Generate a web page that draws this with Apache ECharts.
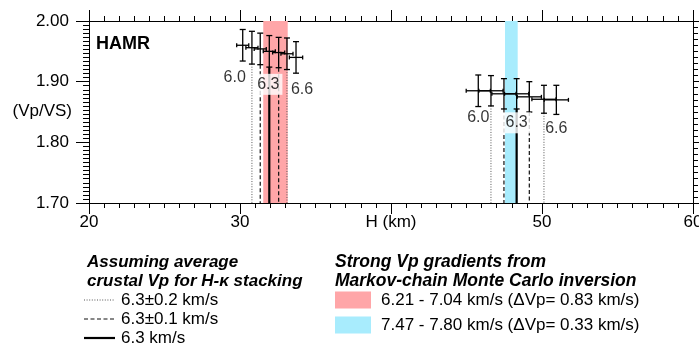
<!DOCTYPE html>
<html><head><meta charset="utf-8">
<script src="https://cdn.jsdelivr.net/npm/echarts@6/dist/echarts.min.js"></script>
<style>html,body{margin:0;padding:0;background:#fff}#c{width:699px;height:351px}</style>
</head><body><div id="c"></div>
<script>
// ---- data ----
const vpValues = ['6.0','6.1','6.2','6.3','6.4','6.5','6.6'];
const vpLineKind = ['none','dotted','dashed','solid','dashed','dotted','none'];
// cluster A (left)
const clusterA_H     = [30.18, 30.79, 31.34, 31.94, 32.56, 33.11, 33.71];
const clusterA_ratio = [1.960, 1.956, 1.954, 1.950, 1.948, 1.946, 1.940];
const clusterA_errH  = [0.40, 0.40, 0.40, 0.40, 0.40, 0.40, 0.44];
const clusterA_errR  = [0.026, 0.027, 0.026, 0.026, 0.025, 0.026, 0.026];
// cluster B (right)
const clusterB_H     = [45.78, 46.62, 47.48, 48.32, 49.16, 50.13, 50.95];
const clusterB_ratio = [1.885, 1.885, 1.880, 1.880, 1.875, 1.871, 1.870];
const clusterB_errH  = [0.80, 0.80, 0.80, 0.80, 0.80, 0.80, 0.80];
const clusterB_errR  = [0.026, 0.025, 0.025, 0.025, 0.025, 0.023, 0.024];
// Vp gradient bands (H range)
const bandPink = [31.54, 33.16];
const bandBlue = [47.55, 48.39];
// axes
const xMin = 20, xMax = 60, xStep = 10;
const yMin = 1.70, yMax = 2.00, yStep = 0.10;
const xTickLabels = ['20','30','H (km)','50','60'];
const yTickLabels = ['1.70','1.80','1.90','2.00'];
const stationName = 'HAMR';
const yAxisTitle = '(Vp/VS)';
const legendLeftTitle = ['Assuming average','crustal Vp for H-\u03ba stacking'];
const legendLeftItems = ['6.3\u00b10.2 km/s','6.3\u00b10.1 km/s','6.3 km/s'];
const legendRightTitle = ['Strong Vp gradients from','Markov-chain Monte Carlo inversion'];
const legendRightItems = ['6.21 - 7.04 km/s (\u0394Vp= 0.83 km/s)','7.47 - 7.80 km/s (\u0394Vp= 0.33 km/s)'];

// ---- styling ----
const FONT = '"Liberation Sans", Arial, Helvetica, sans-serif';
const PINK = '#ffa6a8', BLUE = '#a8ecfd';
function lineStyleFor(kind){
  if(kind==='dotted') return {stroke:'#555', lineWidth:1, lineDash:[1,1.6]};
  if(kind==='dashed') return {stroke:'#111', lineWidth:1.2, lineDash:[4,2.5]};
  return {stroke:'#000', lineWidth:2.2};
}

function buildErr(H,R,eH,eR){ return H.map((h,i)=>[h,R[i],eH[i],eR[i]]); }
function buildRef(H,R,eR){
  const out=[];
  H.forEach((h,i)=>{ if(vpLineKind[i]!=='none') out.push([h, R[i]-eR[i], i]); });
  return out;
}
function buildLabels(H,R,offs){
  return [0,3,6].map((i,k)=>({
    value:[H[i],R[i]], name:vpValues[i],
    label:{offset:offs[k], backgroundColor: i===3?'#fff':'transparent', padding: i===3?[3,3,2,3]:0}
  }));
}

function errRender(params, api){
  const x=api.value(0), y=api.value(1), ex=api.value(2), ey=api.value(3);
  const t=api.coord([x,y+ey]), b=api.coord([x,y-ey]);
  const l=api.coord([x-ex,y]), r=api.coord([x+ex,y]);
  const st={stroke:'#000', lineWidth:1.3};
  const cv=3, ch=2;
  const L=(x1,y1,x2,y2)=>({type:'line', shape:{x1,y1,x2,y2}, style:st});
  return {type:'group', children:[
    L(t[0],t[1],b[0],b[1]), L(t[0]-cv,t[1],t[0]+cv,t[1]), L(b[0]-cv,b[1],b[0]+cv,b[1]),
    L(l[0],l[1],r[0],r[1]), L(l[0],l[1]-ch,l[0],l[1]+ch), L(r[0],r[1]-ch,r[0],r[1]+ch)
  ]};
}
function refRender(params, api){
  const kind=vpLineKind[api.value(2)];
  const p0=api.coord([api.value(0),api.value(1)]);
  const p1=api.coord([api.value(0),yMin]);
  return {type:'line', shape:{x1:p0[0],y1:p0[1],x2:p1[0],y2:p1[1]}, style:lineStyleFor(kind)};
}
function bandRender(params, api){
  const a=api.coord([api.value(0),yMax]), b=api.coord([api.value(1),yMin]);
  return {type:'rect', shape:{x:a[0],y:a[1],width:b[0]-a[0],height:b[1]-a[1]},
          style:{fill: params.dataIndex===0?PINK:BLUE}};
}

const axisCommonX = {
  type:'value', min:xMin, max:xMax, interval:xStep,
  axisLine:{show:true, onZero:false, lineStyle:{color:'#000', width:1}},
  axisTick:{show:true, inside:false, length:11, lineStyle:{color:'#000', width:1}},
  minorTick:{show:true, splitNumber:10, length:5, lineStyle:{color:'#000', width:1}},
  splitLine:{show:false}
};
const axisCommonY = {
  type:'value', min:yMin, max:yMax, interval:yStep,
  axisLine:{show:true, onZero:false, lineStyle:{color:'#000', width:1}},
  axisTick:{show:true, inside:false, length:13, lineStyle:{color:'#000', width:1}},
  minorTick:{show:true, splitNumber:15, length:6, lineStyle:{color:'#000', width:1}},
  splitLine:{show:false}
};

const chart = echarts.init(document.getElementById('c'), null, {renderer:'canvas'});
const gText = (text,x,y,font,extra)=>({type:'text', silent:true, z:100,
  style:Object.assign({text, x, y, font, fill:'#000', verticalAlign:'middle', align:'left'}, extra||{})});

const graphics = [
  gText(stationName, 96, 44, 'bold 18px '+FONT),
  gText(yAxisTitle, 72, 111, '17px '+FONT, {align:'right'}),
  gText(legendLeftTitle[0], 87, 262, 'italic bold 17px '+FONT),
  gText(legendLeftTitle[1], 87, 281, 'italic bold 17px '+FONT),
  gText(legendRightTitle[0], 335, 262, 'italic bold 17.5px '+FONT),
  gText(legendRightTitle[1], 335, 281, 'italic bold 17.5px '+FONT),
];
const legY = [300, 319, 338];
const legKinds = ['dotted','dashed','solid'];
legendLeftItems.forEach((t,i)=>{
  graphics.push({type:'line', silent:true, shape:{x1:84,y1:legY[i],x2:115,y2:legY[i]}, style:lineStyleFor(legKinds[i])});
  graphics.push(gText(t, 121, legY[i], '17px '+FONT));
});
const legRY = [300, 325];
[PINK, BLUE].forEach((c,i)=>{
  graphics.push({type:'rect', silent:true, shape:{x:335, y:legRY[i]-8.5, width:36, height:17}, style:{fill:c}});
  graphics.push(gText(legendRightItems[i], 381, legRY[i], '17px '+FONT));
});

const labelStyle = {show:true, position:'inside', formatter:'{b}', color:'#000',
  fontSize:16, fontFamily:FONT};

chart.setOption({
  animation:false,
  backgroundColor:'#fff',
  grid:{left:89, right:6, top:21, bottom:148, containLabel:false, outerBoundsMode:'none'},
  xAxis:[
    Object.assign({}, axisCommonX, {position:'bottom',
      axisLabel:{show:true, margin:11, color:'#000', fontSize:17, fontFamily:FONT,
        hideOverlap:false,
        formatter:(v)=>xTickLabels[Math.round((v-xMin)/xStep)]}}),
    Object.assign({}, axisCommonX, {position:'top', axisLabel:{show:false}})
  ],
  yAxis:[
    Object.assign({}, axisCommonY, {position:'left',
      axisLabel:{show:true, margin:20, color:'#000', fontSize:17, fontFamily:FONT,
        formatter:(v)=>yTickLabels[Math.round((v-yMin)/yStep)]}}),
    Object.assign({}, axisCommonY, {position:'right', axisLabel:{show:false},
      axisTick:{show:true, inside:false, length:6, lineStyle:{color:'#000'}},
      minorTick:{show:true, splitNumber:10, length:5, lineStyle:{color:'#000'}}})
  ],
  series:[
    {type:'custom', name:'bands', z:1, renderItem:bandRender, data:[bandPink, bandBlue], clip:false},
    {type:'custom', name:'refA', z:2, renderItem:refRender, data:buildRef(clusterA_H,clusterA_ratio,clusterA_errR)},
    {type:'custom', name:'refB', z:2, renderItem:refRender, data:buildRef(clusterB_H,clusterB_ratio,clusterB_errR)},
    {type:'custom', name:'errA', z:4, renderItem:errRender, data:buildErr(clusterA_H,clusterA_ratio,clusterA_errH,clusterA_errR)},
    {type:'custom', name:'errB', z:4, renderItem:errRender, data:buildErr(clusterB_H,clusterB_ratio,clusterB_errH,clusterB_errR)},
    {type:'scatter', name:'labA', z:10, symbolSize:0, label:labelStyle,
      data:buildLabels(clusterA_H,clusterA_ratio,[[-8,32],[-1,33],[6,32]])},
    {type:'scatter', name:'labB', z:10, symbolSize:0, label:labelStyle,
      data:buildLabels(clusterB_H,clusterB_ratio,[[0,27],[0,29],[0,28.5]])}
  ],
  graphic:graphics
});
</script></body></html>
